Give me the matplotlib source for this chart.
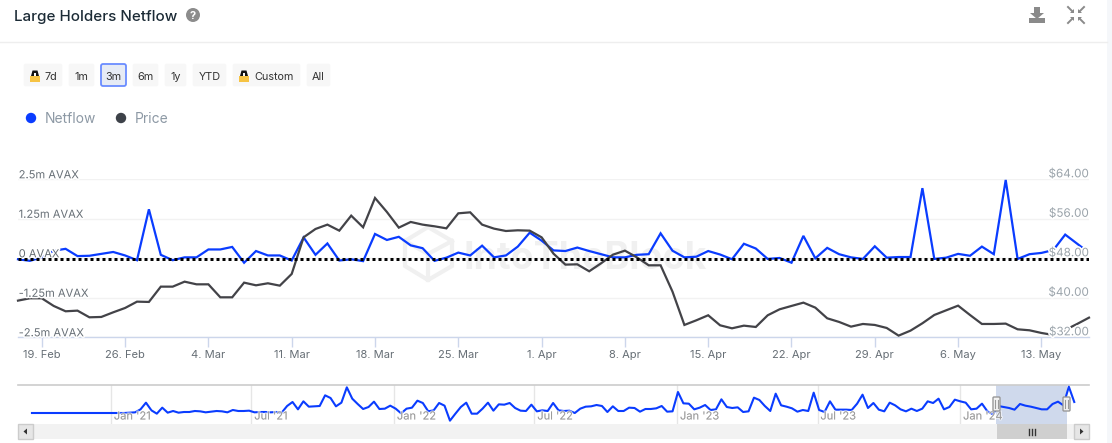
import matplotlib
matplotlib.use("Agg")
import matplotlib.pyplot as plt
import matplotlib.patheffects as pe
from matplotlib.patches import Circle, FancyBboxPatch, Rectangle, Polygon
from matplotlib.lines import Line2D
import pandas as pd

plt.rcParams['font.family'] = ['Inter', 'DejaVu Sans']

# ---------- data ----------
title = "Large Holders Netflow"
range_buttons = ["7d", "1m", "3m", "6m", "1y", "YTD", "Custom", "All"]
series_names = ["Netflow", "Price"]

netflow_m = [-0.03, -0.08, 0.03, 0.24, 0.30, 0.07, 0.08, 0.14, 0.20, 0.09, -0.06, 1.55, 0.11, -0.06, 0.03, 0.03,
             0.28, 0.28, 0.36, -0.14, 0.23, 0.09, 0.09, -0.07, 0.66, 0.11, 0.47, -0.07, -0.03, -0.09,
             0.77, 0.58, 0.68, 0.41, 0.32, -0.08, 0.02, 0.18, 0.09, 0.40, 0.03, 0.09, 0.37, 0.81,
             0.56, 0.25, 0.23, 0.34, 0.23, 0.13, 0.03, 0.03, 0.11, 0.13, 0.79, 0.24, 0.03, 0.05, 0.23, 0.12, -0.03,
             0.46, 0.31, -0.02, 0.01, -0.14, 0.71, 0.00, 0.33, 0.13, 0.03, -0.02, 0.38, 0.02,
             0.04, 0.04, 2.22, -0.02, 0.02, 0.14, 0.08, 0.37, 0.13, 2.48, -0.02, 0.13, 0.17, 0.26, 0.75, 0.32]
price_usd = [39.43, 39.90, 39.90, 38.35, 37.27, 37.40, 36.05, 36.12, 37.06, 37.94, 39.22, 39.16, 42.26,
             42.26, 43.27, 42.73, 42.73, 40.10, 40.10, 43.07, 42.53, 42.94, 42.46, 44.83, 52.25, 53.94,
             54.82, 53.60, 56.64, 54.28, 60.22, 57.38, 54.21, 55.36, 54.82, 54.48, 54.07, 57.11, 57.31,
             54.82, 54.01, 53.53, 53.67, 53.60, 52.25, 48.94, 46.72, 46.78, 45.37, 46.99, 48.74, 49.55,
             48.20, 46.58, 46.58, 41.25, 34.50, 35.44, 36.46, 34.43, 33.82, 34.36, 34.09, 36.46, 37.67,
             38.35, 39.02, 38.01, 35.85, 35.11, 34.16, 34.70, 34.50, 33.89, 32.34, 33.35, 34.84, 36.52,
             37.47, 38.41, 36.52, 34.70, 34.70, 34.77, 33.62, 33.42, 32.88, 32.47, 33.49, 34.70, 35.98]
price_dates = pd.date_range("2024-02-17", periods=len(price_usd), freq="D")
netflow_dates = list(pd.date_range("2024-02-17", periods=len(netflow_m) - 1, freq="D")) + [pd.Timestamp("2024-05-16 12:00")]

xtick_dates = pd.date_range("2024-02-19", "2024-05-13", freq="7D")
xtick_labels = ["19. Feb", "26. Feb", "4. Mar", "11. Mar", "18. Mar", "25. Mar", "1. Apr", "8. Apr",
                "15. Apr", "22. Apr", "29. Apr", "6. May", "13. May"]
left_ticks = [2.5, 1.25, 0, -1.25, -2.5]
left_labels = ["2.5m AVAX", "1.25m AVAX", "0 AVAX", "-1.25m AVAX", "-2.5m AVAX"]
right_ticks = [64, 56, 48, 40, 32]
right_labels = ["$64.00", "$56.00", "$48.00", "$40.00", "$32.00"]
zero_level = -0.03

nav_flow = [0.0] * 15 + [
    0, 0, 0, .1, .2, 1.1, 3.1, .8, -.2, 1.6, .1, .6, .1, .3, .3, .6, .5, .2, .4, .6, .5, .2, .9, .6, .6, .7, .2,
    .3, .3, .2, .3, .1, 2.1, 3.3, 1.1, 3.5, 1.9, 2.0, 2.1, 5.3, 4.5, 2.0, 3.1, 7.7, 4.3, 2.7, 1.2, 1.8, 3.4, 1.2,
    1.3, 2.2, 1.3, -.1, 1.3, 1.6, 3.7, 3.0, .5, .8, 3.0, 2.2, -2.3, -.2, 1.8, 3.1, -.2, -.2, 1.3, 3.1, .7, 2.6,
    2.5, 3.0, 1.5, .7, .6, 2.5, .5, .8, .6, 3.0, .8, .6, .7, 0, 1.3, 1.9, 2.0, 2.4, 2.1, .3, 2.0, .6, .6, 1.6, 1.5,
    .4, 1.2, 1.2, 1.4, 2.1, .4, .5, 6.3, 2.9, 2.8, 1.1, 1.6, 2.4, .9, 1.1, 4.1, 1.8, 1.5, 1.7, .3, .5, 4.6, 3.9,
    2.1, .6, 5.8, 2.3, 1.9, 1.4, .4, .9, .6, 6.1, .9, .3, 3.5, 1.0, 1.0, 1.0, .9, 2.8, 5.5, 1.5, 3.0, 1.0, .5, 3.1,
    2.3, 1.1, .5, 1.3, .6, 1.3, 3.5, 3.0, 4.3, 1.1, 1.8, 4.0, 3.5, 3.1, 1.1, 1.3, 2.8, .5, -.4, 2.1, 1.8, 1.5, 1.0,
    2.7, 2.2, 1.9, 1.5, 1.1, 1.1, 2.7, 3.4, 2.3, 7.9, 3.3]
nav_dates = pd.date_range("2020-09-21", periods=len(nav_flow), freq="7D")
nav_tick_dates = pd.to_datetime(["2021-01-01", "2021-07-01", "2022-01-01", "2022-07-01",
                                 "2023-01-01", "2023-07-01", "2024-01-01"])
nav_tick_labels = ["Jan '21", "Jul '21", "Jan '22", "Jul '22", "Jan '23", "Jul '23", "Jan '24"]
selection = (pd.Timestamp("2024-02-16"), pd.Timestamp("2024-05-17"))

# ---------- styles ----------
W, H = 1112, 443
BLUE, DARK = "#0a3cff", "#434348"
AXIS = "#ccd6eb"

fig = plt.figure(figsize=(W / 100, H / 100), dpi=100, facecolor="white")


def px_axes(x0, y0, x1, y1, **kw):
    return fig.add_axes([x0 / W, 1 - y1 / H, (x1 - x0) / W, (y1 - y0) / H], **kw)


# ---------- page chrome (pixel coordinates) ----------
bg = px_axes(0, 0, W, H, zorder=0)
bg.set_xlim(0, W); bg.set_ylim(H, 0); bg.axis("off")
bg.add_patch(Rectangle((1107, 0), 5, H, fc="#f5f7fa", ec="none"))
bg.text(14, 17, title, fontsize=10.9, color="#1c2b36", va="center", ha="left", fontweight="medium")
bg.add_patch(Circle((193, 15), 7, fc="#8c8c8c", ec="none"))
bg.text(193, 15.5, "?", fontsize=8, color="white", ha="center", va="center", fontweight="bold")
bg.add_line(Line2D([0, 1107], [42, 42], color="#eeeeee", lw=1))

# toolbar icons
ic = "#8a8a8a"
bg.add_patch(Polygon([(1034, 7), (1040, 7), (1040, 13), (1044, 13), (1037, 19), (1030, 13), (1034, 13)], fc=ic, ec="none"))
bg.add_patch(Rectangle((1029, 18), 16, 5, fc=ic, ec="none"))
for sx, sy in [(-1, -1), (1, -1), (-1, 1), (1, 1)]:
    cx, cy = 1076, 15
    bg.add_patch(Polygon([(cx + sx * 2, cy + sy * 2), (cx + sx * 6, cy + sy * 2), (cx + sx * 2, cy + sy * 6)], fc=ic, ec="none"))
    bg.add_line(Line2D([cx + sx * 4, cx + sx * 8], [cy + sy * 4, cy + sy * 8], color=ic, lw=1.4))

# range buttons
button_spans = [(23, 63), (68, 95), (100, 127), (132, 159), (164, 187), (192, 227), (232, 301), (306, 331)]
for name, (a, b) in zip(range_buttons, button_spans):
    active = name == "3m"
    bg.add_patch(FancyBboxPatch((a + 1, 64), b - a - 2, 22, boxstyle="round,pad=0,rounding_size=2",
                                fc="#e6ebf5" if active else "#f7f7f7",
                                ec="#6a8cff" if active else "#f7f7f7", lw=1.3 if active else 0.5))
    locked = name in ("7d", "Custom")
    tx = (a + b) / 2 + (8 if locked else 0)
    bg.text(tx, 77, name, fontsize=7.8, color="#333333", ha="center", va="center")
    if locked:
        lx = a + 12
        bg.add_patch(Polygon([(lx - 2.5, 70.5), (lx + 2.5, 70.5), (lx + 4, 76), (lx - 4, 76)], fc="#111111", ec="none"))
        bg.add_patch(Rectangle((lx - 1.2, 72.5), 2.4, 3, fc="#f7f7f7", ec="none"))
        bg.add_patch(Rectangle((lx - 5, 75.5), 10, 6.5, fc="#f6c343", ec="none"))

# legend
bg.add_patch(Circle((31, 118), 5.2, fc=BLUE, ec="none"))
bg.text(45, 119, series_names[0], fontsize=10, color="#8d99a5", va="center")
bg.add_patch(Circle((121, 118), 5.2, fc="#3d4249", ec="none"))
bg.text(135, 119, series_names[1], fontsize=10, color="#8d99a5", va="center")

# watermark
wm = "#f0f0f0"
bg.text(463, 259, "IntoTheBlock", fontsize=27, fontweight="bold", color=wm, ha="left", va="center")
hexagon = [(428, 227), (452, 241), (452, 266), (428, 280), (405, 266), (405, 241)]
bg.add_patch(Polygon(hexagon, fc="none", ec=wm, lw=3))
bg.add_line(Line2D([405, 428, 452], [241, 254, 241], color=wm, lw=3))
bg.add_line(Line2D([428, 428], [254, 280], color=wm, lw=3))

# ---------- main chart ----------
ax = px_axes(18, 179.3, 1089, 337.3, zorder=2)
ax.patch.set_alpha(0)
ax.set_xlim(pd.Timestamp("2024-02-17"), pd.Timestamp("2024-05-17"))
ax.set_ylim(-2.5, 2.5)
for s in ("top", "left", "right"):
    ax.spines[s].set_visible(False)
ax.spines["bottom"].set_color(AXIS)
ax.spines["bottom"].set_linewidth(1)
ax.set_yticks(left_ticks)
ax.tick_params(axis="y", length=0, labelleft=False)
ax.grid(axis="y", color="#f2f2f2", lw=1)
ax.set_axisbelow(True)
ax.set_xticks(xtick_dates)
ax.set_xticklabels(xtick_labels, fontsize=8, color="#666e75")
ax.tick_params(axis="x", length=7.2, width=1, color=AXIS, pad=2)
ax.plot(netflow_dates, netflow_m, color=BLUE, lw=1.6, solid_joinstyle="miter", zorder=3, clip_on=False)

ax2 = ax.twinx()
ax2.patch.set_alpha(0)
ax2.set_ylim(32, 64)
ax2.axis("off")
ax2.plot(price_dates, price_usd, color=DARK, lw=1.6, solid_joinstyle="miter", zorder=2, clip_on=False)
halo = [pe.withStroke(linewidth=2.2, foreground="white")]
for v, t in zip(left_ticks, left_labels):
    ax2.annotate(t, xy=(0, v), xycoords=("axes fraction", ax.transData), xytext=(0.5, 4 * .72),
                 textcoords="offset points", fontsize=8, color="#666e75", ha="left", va="center",
                 path_effects=halo, zorder=5, annotation_clip=False)
for v, t in zip(right_ticks, right_labels):
    ax2.annotate(t, xy=(1, v), xycoords=("axes fraction", "data"), xytext=(0, 5 * .72),
                 textcoords="offset points", fontsize=8.4, color="#9aa3aa", ha="right", va="center",
                 path_effects=halo, zorder=5, annotation_clip=False)
ax2.plot(ax.get_xlim(), [32 + (zero_level + 2.5) * 6.4] * 2, color="black", lw=2.16,
         linestyle=(0, (1, 1)), dash_capstyle="butt", zorder=6)

# ---------- navigator ----------
nav = px_axes(18, 385, 1089, 424, zorder=3)
nav.set_xlim(pd.Timestamp("2020-09-03"), pd.Timestamp("2024-06-15"))
nav.set_ylim(-3.3, 8.4)
for s in ("left", "right", "bottom"):
    nav.spines[s].set_visible(False)
nav.spines["top"].set_color("#cccccc")
nav.spines["top"].set_linewidth(1.2)
nav.set_yticks([])
nav.set_xticks(nav_tick_dates)
nav.set_xticklabels([])
nav.tick_params(axis="x", length=0)
nav.grid(axis="x", color="#e6e6e6", lw=1)
nav.set_axisbelow(True)
nav.axvspan(selection[0], selection[1], fc="#cfd9ec", ec="none", zorder=1)
nav.plot(nav_dates, nav_flow, color=BLUE, lw=1.5, zorder=3, clip_on=False)
for d, t in zip(nav_tick_dates, nav_tick_labels):
    nav.annotate(t, xy=(d, -1.05), xytext=(2, 0), textcoords="offset points", fontsize=8, color="#9a9a9a",
                 ha="left", va="center", zorder=4,
                 path_effects=[pe.withStroke(linewidth=1.5, foreground=(1, 1, 1, 0.6))])

# ---------- scrollbar and handles (pixel coordinates) ----------
fg = px_axes(0, 0, W, H, zorder=5)
fg.set_xlim(0, W); fg.set_ylim(H, 0); fg.axis("off"); fg.patch.set_alpha(0)
fg.add_patch(Rectangle((18, 424), 1071, 15, fc="#f2f2f2", ec="none"))
fg.add_patch(Rectangle((997, 424), 70, 15, fc="#cfcfcf", ec="none"))
for gx in (1029, 1032, 1035):
    fg.add_line(Line2D([gx, gx], [428.5, 434.5], color="#333333", lw=1))
for x0 in (18, 1074):
    fg.add_patch(Rectangle((x0, 424), 15, 15, fc="#e6e6e6", ec="#cccccc", lw=1))
fg.add_patch(Polygon([(27, 428.5), (27, 434.5), (23.5, 431.5)], fc="#333333", ec="none"))
fg.add_patch(Polygon([(1080, 428.5), (1080, 434.5), (1083.5, 431.5)], fc="#333333", ec="none"))
for hx in (996.5, 1066.5):
    fg.add_patch(FancyBboxPatch((hx - 3.5, 397), 7, 14, boxstyle="round,pad=0,rounding_size=1",
                                fc="#f2f2f2", ec="#999999", lw=1))
    for dx in (-1.2, 1.2):
        fg.add_line(Line2D([hx + dx, hx + dx], [400, 408], color="#999999", lw=0.8))

fig.savefig("out.png", dpi=100)
